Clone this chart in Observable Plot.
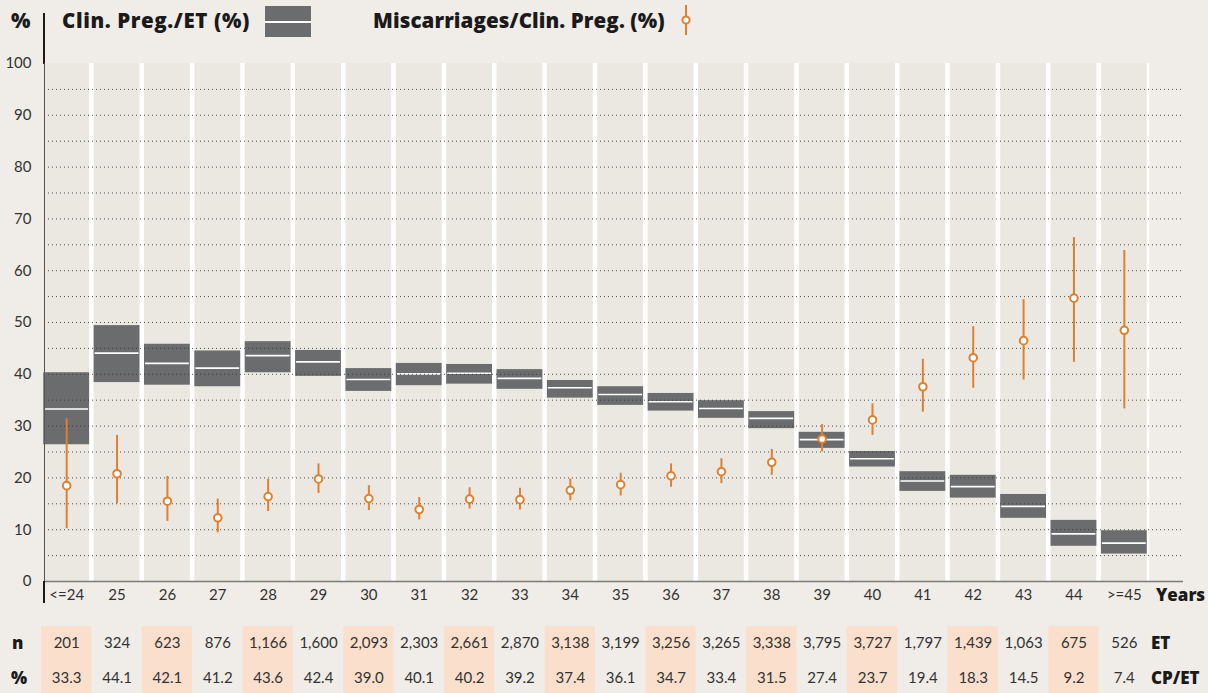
<!DOCTYPE html>
<html><head><meta charset="utf-8">
<script src="https://cdn.jsdelivr.net/npm/d3@7"></script>
<script src="https://cdn.jsdelivr.net/npm/@observablehq/plot@0.6"></script>
<style>
body{margin:0;background:#f0ece7;font-family:Lato,"Noto Sans",sans-serif;}
#wrap{position:relative;width:1208px;height:693px;overflow:hidden;background:#f0ece7;}
.abs{position:absolute;white-space:nowrap;}
.lg{font-family:"Open Sans",Lato,sans-serif;font-weight:800;font-size:20.5px;letter-spacing:0.1px;color:#1a1a1a;line-height:21px;}
.rl{font-family:"Open Sans",Lato,sans-serif;font-weight:800;font-size:17px;color:#1a1a1a;line-height:17px;}
#main,#table{position:absolute;left:0;}
#main{top:0;} #table{top:626px;}
</style></head><body><div id="wrap">
<div id="main"></div><div id="table"></div>
<div class="abs lg" style="left:11px;top:10px;">%</div>
<div class="abs" style="left:43px;top:13px;width:2px;height:51px;background:#1a1a1a;"></div>
<div class="abs" style="left:43.5px;top:63px;width:1.2px;height:518px;background:#555;"></div>
<div class="abs" style="left:43px;top:581px;width:2px;height:22px;background:#1a1a1a;"></div>
<div class="abs lg" style="left:62px;top:10px;letter-spacing:0.6px;">Clin. Preg./ET (%)</div>
<div class="abs" style="left:265px;top:6px;width:46px;height:31px;background:#6b6c6e;"></div>
<div class="abs" style="left:265px;top:21px;width:46px;height:2px;background:#fff;"></div>
<div class="abs lg" style="left:373px;top:10px;">Miscarriages/Clin. Preg. (%)</div>
<svg class="abs" style="left:678px;top:0px;" width="16" height="40"><line x1="8" x2="8" y1="5" y2="35" stroke="#e0802f" stroke-width="2"/><circle cx="8" cy="20" r="3.6" fill="#fff" stroke="#e0802f" stroke-width="2"/></svg>
<div class="abs rl" style="left:1156px;top:586px;">Years</div>
<div class="abs rl" style="left:12px;top:634px;">n</div>
<div class="abs rl" style="left:11px;top:669px;">%</div>
<div class="abs rl" style="left:1151px;top:634px;">ET</div>
<div class="abs rl" style="left:1151px;top:669px;">CP/ET</div>
</div>
<script>
const ages = ["<=24","25","26","27","28","29","30","31","32","33","34","35","36","37","38","39","40","41","42","43","44",">=45"];
const etN = [201,324,623,876,1166,1600,2093,2303,2661,2870,3138,3199,3256,3265,3338,3795,3727,1797,1439,1063,675,526];
const cpEt = [33.3,44.1,42.1,41.2,43.6,42.4,39.0,40.1,40.2,39.2,37.4,36.1,34.7,33.4,31.5,27.4,23.7,19.4,18.3,14.5,9.2,7.4];
const cpLo = [26.4,38.4,37.9,37.6,40.3,39.6,36.7,37.8,38.1,37.1,35.4,34.0,32.9,31.5,29.5,25.7,22.1,17.4,16.1,12.2,6.8,5.3];
const cpHi = [40.3,49.4,45.8,44.5,46.3,44.6,41.1,42.1,41.9,40.9,38.8,37.6,36.3,34.9,32.8,28.8,25.1,21.2,20.5,16.8,11.8,9.8];
const misc = [18.5,20.8,15.5,12.3,16.4,19.8,16.0,13.9,15.9,15.8,17.6,18.7,20.4,21.2,23.0,27.5,31.2,37.6,43.2,46.5,54.7,48.5];
const miscLo = [10.2,15.0,11.6,9.4,13.5,17.0,13.7,11.9,14.0,13.8,15.6,16.5,18.2,18.9,20.5,25.0,28.2,32.7,37.3,38.9,42.3,33.3];
const miscHi = [31.4,28.2,20.3,15.9,19.7,22.7,18.5,16.2,18.1,18.0,19.8,20.9,22.7,23.7,25.5,30.3,34.3,42.9,49.2,54.4,66.4,63.9];
const yTicks = [0,10,20,30,40,50,60,70,80,90,100];
const gridLines = [5,10,15,20,25,30,35,40,45,50,55,60,65,70,75,80,85,90,95];

const orange = "#e0802f";
const rows = ages.map((a,i)=>({age:a, n:etN[i], cp:cpEt[i], lo:cpLo[i], hi:cpHi[i], m:misc[i], mlo:miscLo[i], mhi:miscHi[i]}));
const xOpts = {type:"band", domain:ages, range:[41,1149], paddingInner:0.09, paddingOuter:0.045, align:0.5, round:false, axis:null};

const main = Plot.plot({
  width:1208, height:620, marginTop:63, marginBottom:39, marginLeft:44, marginRight:25,
  style:{background:"transparent", fontFamily:"Lato, 'Noto Sans', sans-serif", fontSize:"15px", color:"#333", overflow:"visible"},
  x:xOpts,
  y:{domain:[0,100], axis:null},
  marks:[
    Plot.barY(rows,{x:"age", y1:0, y2:100, fill:"white", insetLeft:-2.6, insetRight:-2.6, clip:"frame"}),
    Plot.barY(rows,{x:"age", y1:0, y2:100, fill:"#ebe8e2"}),
    Plot.barY(rows,{x:"age", y1:"lo", y2:"hi", fill:"#6b6c6e"}),
    Plot.tickY(rows,{x:"age", y:"cp", stroke:"white", strokeWidth:1.7, insetLeft:1, insetRight:1}),
    Plot.ruleY(gridLines,{stroke:"#333", strokeDasharray:"1,3", strokeWidth:1, strokeOpacity:0.85}),
    Plot.ruleX(rows,{x:"age", y1:"mlo", y2:"mhi", stroke:orange, strokeWidth:2}),
    Plot.dot(rows,{x:"age", y:"m", r:3.8, fill:"white", stroke:orange, strokeWidth:2}),
    Plot.ruleY([0],{stroke:"#7a7a7a", strokeWidth:1.5}),
    Plot.axisY(yTicks,{tickSize:0, tickPadding:13, label:null, fontSize:15, fill:"#333"}),
    Plot.axisX({tickSize:0, tickPadding:8, label:null, fontSize:15, fill:"#333"})
  ]
});
document.getElementById("main").appendChild(main);

const table = Plot.plot({
  width:1208, height:67, marginTop:0, marginBottom:0, marginLeft:44, marginRight:25,
  style:{background:"transparent", fontFamily:"Lato, 'Noto Sans', sans-serif", fontSize:"15px", color:"#333", overflow:"visible"},
  x:xOpts,
  y:{domain:[0,2], axis:null},
  marks:[
    Plot.barY(rows.filter((d,i)=>i%2===0),{x:"age", y1:0, y2:2, fill:"#f9dfcc", insetLeft:-2.2, insetRight:-2.2}),
    Plot.text(rows,{x:"age", y:1.5, text:d=>d3.format(",")(d.n), fontSize:15, fill:"#333"}),
    Plot.text(rows,{x:"age", y:0.45, text:d=>d.cp.toFixed(1), fontSize:15, fill:"#333"})
  ]
});
document.getElementById("table").appendChild(table);
</script>
</body></html>
